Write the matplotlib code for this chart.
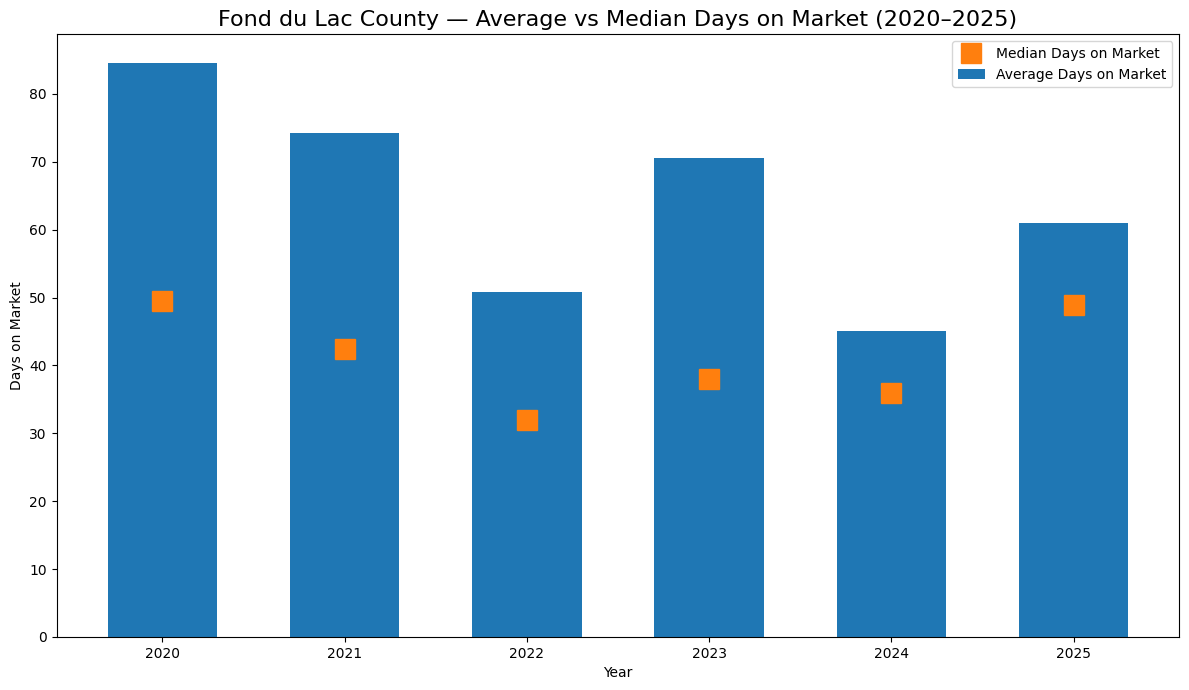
import numpy as np
import matplotlib
matplotlib.use("Agg")
import matplotlib.pyplot as plt

years = ["2020", "2021", "2022", "2023", "2024", "2025"]
avg_days = [84.6, 74.3, 50.8, 70.6, 45.1, 61.0]
median_days = [49.5, 42.4, 31.9, 38.0, 35.9, 48.9]

fig, ax = plt.subplots(figsize=(11.89, 6.9), dpi=100)
x = np.arange(len(years))

ax.plot(x, median_days, "s", color="tab:orange", markersize=14, linestyle="none",
        label="Median Days on Market", zorder=3)
ax.bar(x, avg_days, width=0.6, color="tab:blue", label="Average Days on Market")

ax.set_xticks(x)
ax.set_xticklabels(years)
ax.set_xlabel("Year")
ax.set_ylabel("Days on Market")
ax.set_title("Fond du Lac County — Average vs Median Days on Market (2020–2025)", fontsize=16)
ax.legend(loc="upper right", numpoints=1)

plt.tight_layout(pad=0.7)
plt.savefig("out.png")
